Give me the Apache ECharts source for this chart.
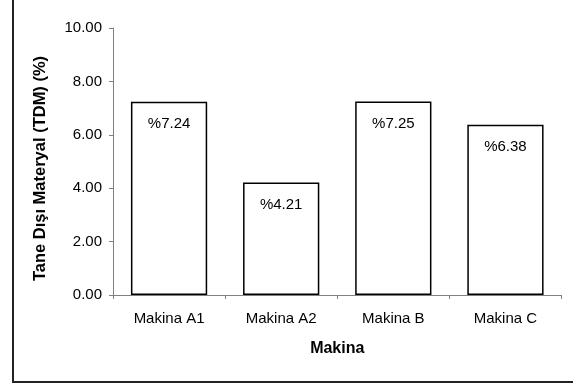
<!DOCTYPE html>
<html>
<head>
<meta charset="utf-8">
<script src="https://cdn.jsdelivr.net/npm/echarts@6/dist/echarts.min.js"></script>
<style>
  html, body { margin: 0; padding: 0; background: #ffffff; }
  #chart { width: 573px; height: 387px; }
</style>
</head>
<body>
<div id="chart"></div>
<script>
// Machine categories and foreign-material shares (%)
const machines = ['Makina A1', 'Makina A2', 'Makina B', 'Makina C'];
const tdmValues = [7.24, 4.21, 7.25, 6.38];
const yTicks = { min: 0, max: 10, step: 2 };
const xAxisTitle = 'Makina';
const yAxisTitle = 'Tane Dışı Materyal (TDM) (%)';

const FONT = '"Liberation Sans", Arial, sans-serif';
const AXIS_GRAY = '#808080';

const chart = echarts.init(document.getElementById('chart'), null, { renderer: 'canvas' });

chart.setOption({
  animation: false,
  backgroundColor: '#ffffff',
  textStyle: { fontFamily: FONT },
  grid: { left: 113, top: 28, right: 11.5, bottom: 92, containLabel: false },
  xAxis: {
    type: 'category',
    data: machines,
    name: xAxisTitle,
    nameLocation: 'middle',
    nameGap: 46,
    nameTextStyle: { fontFamily: FONT, fontSize: 16, fontWeight: 'bold', color: '#000' },
    axisLine: { lineStyle: { color: AXIS_GRAY, width: 1 } },
    axisTick: { show: true, length: 4, alignWithLabel: false, lineStyle: { color: AXIS_GRAY } },
    axisLabel: { fontFamily: FONT, fontSize: 15, color: '#000', margin: 16 },
    splitLine: { show: false }
  },
  yAxis: {
    type: 'value',
    min: yTicks.min,
    max: yTicks.max,
    interval: yTicks.step,
    name: yAxisTitle,
    nameLocation: 'middle',
    nameRotate: 90,
    nameGap: 64,
    nameTextStyle: {
      fontFamily: FONT, fontSize: 16.5, fontWeight: 'bold', color: '#000',
      padding: [0, 14, 0, 0]
    },
    axisLine: { show: true, lineStyle: { color: AXIS_GRAY, width: 1 } },
    axisTick: { show: true, length: 4, lineStyle: { color: AXIS_GRAY } },
    axisLabel: {
      fontFamily: FONT, fontSize: 15, color: '#000', margin: 11,
      formatter: v => v.toFixed(2)
    },
    splitLine: { show: false }
  },
  series: [{
    type: 'bar',
    data: tdmValues,
    barWidth: '68%',
    itemStyle: { color: '#ffffff', borderColor: '#000000', borderWidth: 1.5 },
    label: {
      show: true,
      position: 'insideTop',
      distance: 15,
      fontFamily: FONT,
      fontSize: 15,
      color: '#000',
      formatter: p => '%' + p.value.toFixed(2)
    }
  }],
  graphic: [{
    type: 'rect',
    silent: true,
    shape: { x: 13, y: -10, width: 620, height: 392 },
    style: { fill: null, stroke: '#222222', lineWidth: 2 }
  }]
});
</script>
</body>
</html>
